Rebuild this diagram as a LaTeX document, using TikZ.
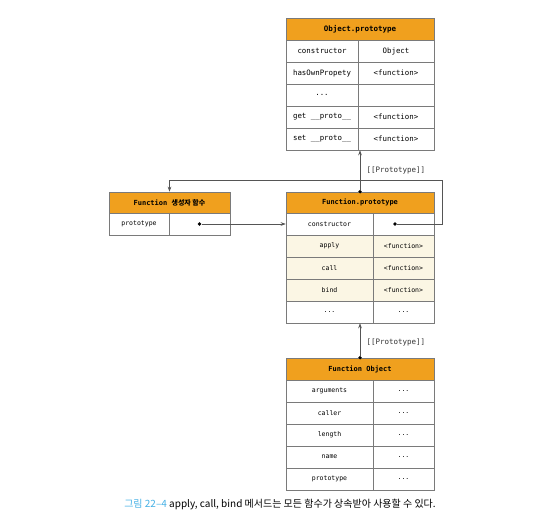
\documentclass[tikz,border=0pt]{standalone}
\usepackage{fontspec}
\setmonofont{DejaVu Sans Mono}
\newfontfamily\krfont{Noto Sans CJK KR}
\usepackage{xcolor}
\usepackage{tikz}
\usetikzlibrary{arrows.meta,positioning,calc}

\definecolor{headorange}{HTML}{F0A01E}
\definecolor{cream}{HTML}{FBF6E4}
\definecolor{linegray}{HTML}{7A7A7A}
\definecolor{capblue}{HTML}{45B0E5}

\begin{document}
\begin{tikzpicture}[
    x=1pt, y=-1pt,
    cell/.style={draw=linegray, line width=0.6pt, rectangle, minimum height=22pt, inner sep=0pt, font=\ttfamily\fontsize{6.5}{7}\selectfont},
    bigcell/.style={cell, font=\ttfamily\fontsize{7.4}{8}\selectfont},
    head/.style={cell, fill=headorange, font=\ttfamily\bfseries\fontsize{7}{8}\selectfont},
    inherited/.style={cell, fill=cream},
    link/.style={-{Stealth[length=5pt,width=3.6pt]}, linegray!70!black, line width=0.6pt},
    dot/.style={circle, fill=black, inner sep=0pt, minimum size=3.6pt},
    protolabel/.style={anchor=west, font=\ttfamily\fontsize{7.5}{8}\selectfont, text=black!80}
]
\useasboundingbox (0,0) rectangle (556,527);

% Object.prototype
\node[head, minimum width=148pt, font=\ttfamily\bfseries\fontsize{7.5}{8}\selectfont] (ohead) at (360, 29) {Object.prototype};
\node[bigcell, minimum width=72pt] (octor) at (322, 51) {constructor};
\node[bigcell, minimum width=76pt] (octorv) at (396, 51) {Object};
\node[bigcell, minimum width=72pt] (ohas) at (322, 73) {hasOwnPropety};
\node[bigcell, minimum width=76pt] (ohasv) at (396, 73) {<function>};
\node[bigcell, minimum width=72pt] (odots) at (322, 95) {...};
\node[bigcell, minimum width=76pt] (odotsv) at (396, 95) {};
\node[bigcell, minimum width=72pt] (oget) at (322, 117) {get \_\_proto\_\_};
\node[bigcell, minimum width=76pt] (ogetv) at (396, 117) {<function>};
\node[bigcell, minimum width=72pt] (oset) at (322, 139) {set \_\_proto\_\_};
\node[bigcell, minimum width=76pt] (osetv) at (396, 139) {<function>};

% Function constructor
\node[head, minimum width=121pt, minimum height=21pt] (fhead) at (169.5, 202.5) {Function {\krfont\bfseries 생성자 함수}};
\node[cell, minimum width=60pt] (fproto) at (139, 224) {prototype};
\node[cell, minimum width=61pt] (fprotov) at (199.5, 224) {};

% Function.prototype
\node[head, minimum width=148pt, minimum height=21pt] (phead) at (360, 202.5) {Function.prototype};
\node[cell, minimum width=87pt] (pctor) at (329.5, 224) {constructor};
\node[cell, minimum width=61pt] (pctorv) at (403.5, 224) {};
\node[inherited, minimum width=87pt] (papply) at (329.5, 246) {apply};
\node[inherited, minimum width=61pt] (papplyv) at (403.5, 246) {<function>};
\node[inherited, minimum width=87pt] (pcall) at (329.5, 268) {call};
\node[inherited, minimum width=61pt] (pcallv) at (403.5, 268) {<function>};
\node[inherited, minimum width=87pt] (pbind) at (329.5, 290) {bind};
\node[inherited, minimum width=61pt] (pbindv) at (403.5, 290) {<function>};
\node[cell, minimum width=87pt] (pdots) at (329.5, 312) {...};
\node[cell, minimum width=61pt] (pdotsv) at (403.5, 312) {...};

% Function object
\node[head, minimum width=148pt] (ghead) at (360, 369) {Function Object};
\node[cell, minimum width=87pt] (gargs) at (329.5, 391) {arguments};
\node[cell, minimum width=61pt] (gargsv) at (403.5, 391) {...};
\node[cell, minimum width=87pt] (gcaller) at (329.5, 413) {caller};
\node[cell, minimum width=61pt] (gcallerv) at (403.5, 413) {...};
\node[cell, minimum width=87pt] (glen) at (329.5, 435) {length};
\node[cell, minimum width=61pt] (glenv) at (403.5, 435) {...};
\node[cell, minimum width=87pt] (gname) at (329.5, 457) {name};
\node[cell, minimum width=61pt] (gnamev) at (403.5, 457) {...};
\node[cell, minimum width=87pt] (gproto) at (329.5, 479) {prototype};
\node[cell, minimum width=61pt] (gprotov) at (403.5, 479) {...};

% Dots
\node[dot] (fdot) at (fprotov) {};
\node[dot] (cdot) at (395, 224) {};
\node[dot] (pdot) at (phead.north) {};
\node[dot] (gdot) at (ghead.north) {};
\coordinate (turn) at (442, 180);

% Arrows
\draw[link] (pdot) -- (pdot |- oset.south);
\draw[link] (gdot) -- (gdot |- pdots.south);
\draw[link] (fdot) -- (pctor.west);
\draw[link] (cdot) -| (turn) -| (fhead.north);

% Labels
\node[protolabel] (plabel1) at (363, 170) {[[Prototype]]};
\node[protolabel] (plabel2) at (363, 342) {[[Prototype]]};

% Caption
\node[font=\krfont\fontsize{10}{12}\selectfont] (caption) at (280, 504) {{\color{capblue}그림 22–4} apply, call, bind 메서드는 모든 함수가 상속받아 사용할 수 있다.};

\end{tikzpicture}
\end{document}
